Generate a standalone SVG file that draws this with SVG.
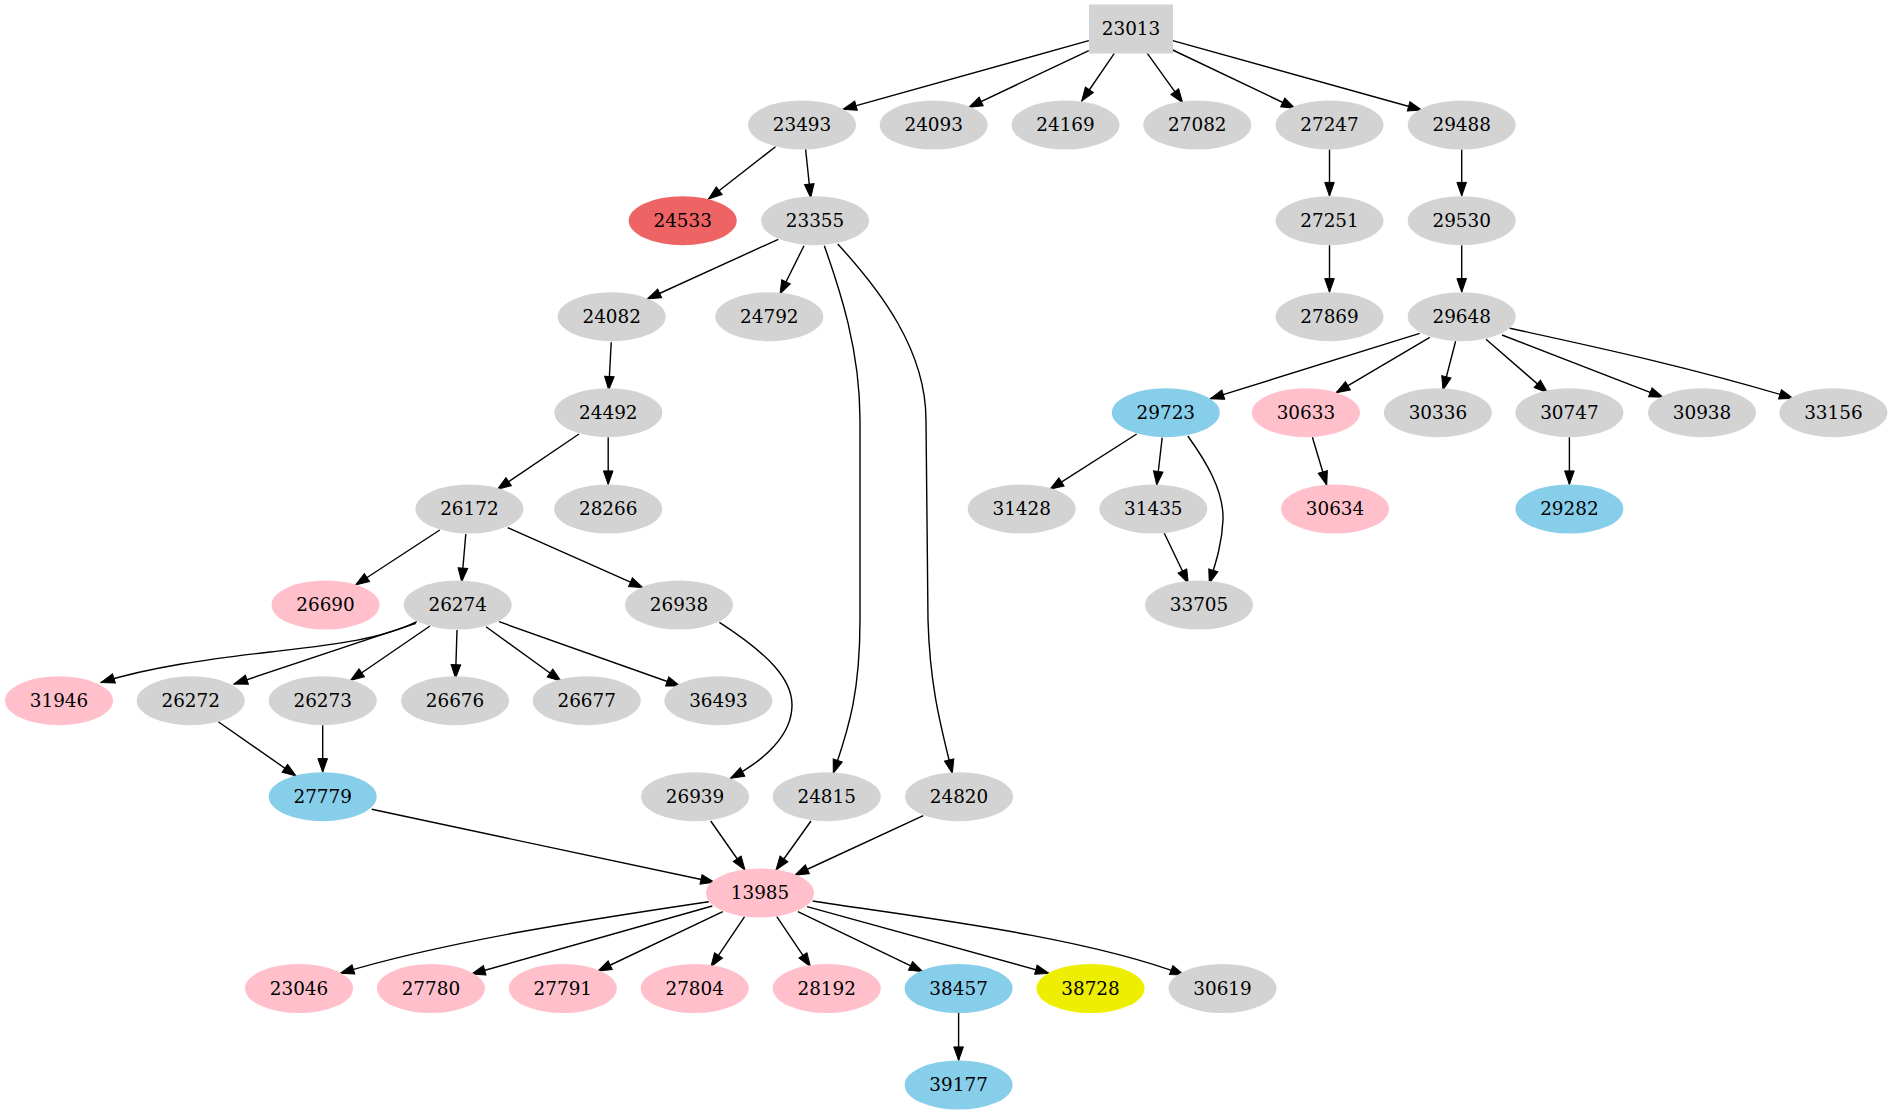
<svg xmlns="http://www.w3.org/2000/svg" width="1893" height="1115" viewBox="0 0 1893 1115">
<style>
.n ellipse,.n rect{stroke:none}
.g ellipse,.g rect{fill:#d3d3d3}
.p ellipse{fill:#ffc0cb}
.b ellipse{fill:#87ceeb}
.r ellipse{fill:#ee6363}
.y ellipse{fill:#eeee00}
text{font-family:"DejaVu Serif","Liberation Serif",serif;font-size:18.4px;fill:#000;text-anchor:middle}
#edges path{fill:none;stroke:#000;stroke-width:1.4;marker-end:url(#ah)}
</style>
<defs>
<marker id="ah" markerUnits="userSpaceOnUse" markerWidth="14" markerHeight="10" refX="13.6" refY="4.8" orient="auto" overflow="visible">
<path d="M0,0 L13.6,4.8 L0,9.6 z" fill="#000" stroke="#000" stroke-width="1"/>
</marker>
</defs>
<rect width="1893" height="1115" fill="#fff"/>
<g id="edges">
<path d="M1088.8,40.7 L842.9,109.3"/>
<path d="M1088.8,50.7 L968.9,107.3"/>
<path d="M1114.3,53.3 L1081.7,101"/>
<path d="M1147.3,53.3 L1182.7,102.7"/>
<path d="M1172.7,50 L1295,108.3"/>
<path d="M1172.7,40.7 L1421.7,110"/>
<path d="M775.5,146.7 L708.5,199"/>
<path d="M805.6,149.3 L810.7,197.7"/>
<path d="M778.3,239.3 L647.3,299"/>
<path d="M804,245.7 L780,294"/>
<path d="M824.3,245.7 C840,290 860,350 860,420 L860,620 C860,690 850,725 833.3,773.3"/>
<path d="M837.7,244 C880,290 926,350 926,420 L928,620 C930,690 942,730 952.3,773.3"/>
<path d="M1329.5,149.5 L1329.5,196"/>
<path d="M1329.5,245.2 L1329.5,292.2"/>
<path d="M1461.7,149.5 L1461.7,196"/>
<path d="M1461.7,245.2 L1461.7,292.2"/>
<path d="M1419.7,333.3 L1210.3,398.7"/>
<path d="M1429.8,337.3 L1336.2,392.7"/>
<path d="M1455.6,341.3 L1443,390"/>
<path d="M1486,339.3 L1547.6,392.7"/>
<path d="M1502,335 L1663,397.3"/>
<path d="M1509.7,328.3 C1610,350 1700,370 1793,398.3"/>
<path d="M1312.4,437.3 L1326.7,485"/>
<path d="M1569.4,437.2 L1569.4,484.5"/>
<path d="M1136.7,434 L1050,489.3"/>
<path d="M1162.2,437.7 L1156.7,485"/>
<path d="M1187.8,436 C1205,460 1224,490 1223,520 C1222,545 1215,565 1209.3,583.3"/>
<path d="M1164.3,533.3 L1188.3,583.3"/>
<path d="M611.2,342.3 L608.7,390"/>
<path d="M579,434 L497.4,489.3"/>
<path d="M608.2,437.2 L608.2,484.5"/>
<path d="M439.8,530 L355.6,585"/>
<path d="M465.8,534 L461.7,581.7"/>
<path d="M507.7,527.7 L642.9,587.7"/>
<path d="M416.8,621.7 C380,640 330,645 270,652 C210,659 150,667 101,682.5"/>
<path d="M415.8,623.3 L234,684"/>
<path d="M430,626 L350.5,680.5"/>
<path d="M457,630 L455.5,678.3"/>
<path d="M486,626.7 L561,681"/>
<path d="M499,621.7 L680,686"/>
<path d="M719.4,622.3 C770,655 792,680 792,705 C792,735 765,760 730.5,778.3"/>
<path d="M218.3,721.7 L296,776"/>
<path d="M322.7,725.2 L322.7,772.2"/>
<path d="M371.7,809.3 L714.3,882.3"/>
<path d="M710.7,821 L745,870"/>
<path d="M811,821 L776,870"/>
<path d="M923.3,815.7 L795,875"/>
<path d="M708.8,901.7 C600,918 450,940 340.4,973.3"/>
<path d="M712.3,906 L471.6,974"/>
<path d="M722.8,911.7 L597.9,971"/>
<path d="M744.6,916.7 L710.9,966.7"/>
<path d="M776.8,916.7 L810.5,966.7"/>
<path d="M797.9,911.7 L922.8,971.7"/>
<path d="M807,906.7 L1049,973.3"/>
<path d="M812.6,901 C900,915 1080,935 1183.9,975"/>
<path d="M958.6,1013 L958.6,1060.5"/>
</g>
<g id="n23013" class="n g"><rect x="1089" y="4.5" width="84" height="49"/><text x="1131" y="35.3">23013</text></g>
<g id="n23493" class="n g"><ellipse cx="802" cy="125" rx="54" ry="24.5"/><text x="802" y="131.3">23493</text></g>
<g id="n24093" class="n g"><ellipse cx="933.7" cy="125" rx="54" ry="24.5"/><text x="933.7" y="131.3">24093</text></g>
<g id="n24169" class="n g"><ellipse cx="1065.5" cy="125" rx="54" ry="24.5"/><text x="1065.5" y="131.3">24169</text></g>
<g id="n27082" class="n g"><ellipse cx="1197.3" cy="125" rx="54" ry="24.5"/><text x="1197.3" y="131.3">27082</text></g>
<g id="n27247" class="n g"><ellipse cx="1329.5" cy="125" rx="54" ry="24.5"/><text x="1329.5" y="131.3">27247</text></g>
<g id="n29488" class="n g"><ellipse cx="1461.7" cy="125" rx="54" ry="24.5"/><text x="1461.7" y="131.3">29488</text></g>
<g id="n24533" class="n r"><ellipse cx="682.7" cy="220.7" rx="54" ry="24.5"/><text x="682.7" y="227">24533</text></g>
<g id="n23355" class="n g"><ellipse cx="815" cy="220.7" rx="54" ry="24.5"/><text x="815" y="227">23355</text></g>
<g id="n27251" class="n g"><ellipse cx="1329.5" cy="220.7" rx="54" ry="24.5"/><text x="1329.5" y="227">27251</text></g>
<g id="n29530" class="n g"><ellipse cx="1461.7" cy="220.7" rx="54" ry="24.5"/><text x="1461.7" y="227">29530</text></g>
<g id="n24082" class="n g"><ellipse cx="611.7" cy="316.7" rx="54" ry="24.5"/><text x="611.7" y="323">24082</text></g>
<g id="n24792" class="n g"><ellipse cx="769.3" cy="316.7" rx="54" ry="24.5"/><text x="769.3" y="323">24792</text></g>
<g id="n27869" class="n g"><ellipse cx="1329.5" cy="316.7" rx="54" ry="24.5"/><text x="1329.5" y="323">27869</text></g>
<g id="n29648" class="n g"><ellipse cx="1461.7" cy="316.7" rx="54" ry="24.5"/><text x="1461.7" y="323">29648</text></g>
<g id="n24492" class="n g"><ellipse cx="608.3" cy="412.7" rx="54" ry="24.5"/><text x="608.3" y="419">24492</text></g>
<g id="n29723" class="n b"><ellipse cx="1165.8" cy="412.7" rx="54" ry="24.5"/><text x="1165.8" y="419">29723</text></g>
<g id="n30633" class="n p"><ellipse cx="1305.9" cy="412.7" rx="54" ry="24.5"/><text x="1305.9" y="419">30633</text></g>
<g id="n30336" class="n g"><ellipse cx="1437.9" cy="412.7" rx="54" ry="24.5"/><text x="1437.9" y="419">30336</text></g>
<g id="n30747" class="n g"><ellipse cx="1569.4" cy="412.7" rx="54" ry="24.5"/><text x="1569.4" y="419">30747</text></g>
<g id="n30938" class="n g"><ellipse cx="1702" cy="412.7" rx="54" ry="24.5"/><text x="1702" y="419">30938</text></g>
<g id="n33156" class="n g"><ellipse cx="1833.4" cy="412.7" rx="54" ry="24.5"/><text x="1833.4" y="419">33156</text></g>
<g id="n26172" class="n g"><ellipse cx="469.4" cy="509" rx="54" ry="24.5"/><text x="469.4" y="515.3">26172</text></g>
<g id="n28266" class="n g"><ellipse cx="608.2" cy="509" rx="54" ry="24.5"/><text x="608.2" y="515.3">28266</text></g>
<g id="n31428" class="n g"><ellipse cx="1021.7" cy="509" rx="54" ry="24.5"/><text x="1021.7" y="515.3">31428</text></g>
<g id="n31435" class="n g"><ellipse cx="1153.3" cy="509" rx="54" ry="24.5"/><text x="1153.3" y="515.3">31435</text></g>
<g id="n30634" class="n p"><ellipse cx="1335" cy="509" rx="54" ry="24.5"/><text x="1335" y="515.3">30634</text></g>
<g id="n29282" class="n b"><ellipse cx="1569.4" cy="509" rx="54" ry="24.5"/><text x="1569.4" y="515.3">29282</text></g>
<g id="n26690" class="n p"><ellipse cx="325.5" cy="605" rx="54" ry="24.5"/><text x="325.5" y="611.3">26690</text></g>
<g id="n26274" class="n g"><ellipse cx="457.7" cy="605" rx="54" ry="24.5"/><text x="457.7" y="611.3">26274</text></g>
<g id="n26938" class="n g"><ellipse cx="679" cy="605" rx="54" ry="24.5"/><text x="679" y="611.3">26938</text></g>
<g id="n33705" class="n g"><ellipse cx="1199" cy="605" rx="54" ry="24.5"/><text x="1199" y="611.3">33705</text></g>
<g id="n31946" class="n p"><ellipse cx="59" cy="700.7" rx="54" ry="24.5"/><text x="59" y="707">31946</text></g>
<g id="n26272" class="n g"><ellipse cx="190.7" cy="700.7" rx="54" ry="24.5"/><text x="190.7" y="707">26272</text></g>
<g id="n26273" class="n g"><ellipse cx="322.7" cy="700.7" rx="54" ry="24.5"/><text x="322.7" y="707">26273</text></g>
<g id="n26676" class="n g"><ellipse cx="455" cy="700.7" rx="54" ry="24.5"/><text x="455" y="707">26676</text></g>
<g id="n26677" class="n g"><ellipse cx="586.7" cy="700.7" rx="54" ry="24.5"/><text x="586.7" y="707">26677</text></g>
<g id="n36493" class="n g"><ellipse cx="718.4" cy="700.7" rx="54" ry="24.5"/><text x="718.4" y="707">36493</text></g>
<g id="n27779" class="n b"><ellipse cx="322.7" cy="796.7" rx="54" ry="24.5"/><text x="322.7" y="803">27779</text></g>
<g id="n26939" class="n g"><ellipse cx="695" cy="796.7" rx="54" ry="24.5"/><text x="695" y="803">26939</text></g>
<g id="n24815" class="n g"><ellipse cx="826.7" cy="796.7" rx="54" ry="24.5"/><text x="826.7" y="803">24815</text></g>
<g id="n24820" class="n g"><ellipse cx="959" cy="796.7" rx="54" ry="24.5"/><text x="959" y="803">24820</text></g>
<g id="n13985" class="n p"><ellipse cx="760" cy="893" rx="54" ry="24.5"/><text x="760" y="899.3">13985</text></g>
<g id="n23046" class="n p"><ellipse cx="299" cy="988.5" rx="54" ry="24.5"/><text x="299" y="994.8">23046</text></g>
<g id="n27780" class="n p"><ellipse cx="430.9" cy="988.5" rx="54" ry="24.5"/><text x="430.9" y="994.8">27780</text></g>
<g id="n27791" class="n p"><ellipse cx="562.8" cy="988.5" rx="54" ry="24.5"/><text x="562.8" y="994.8">27791</text></g>
<g id="n27804" class="n p"><ellipse cx="694.7" cy="988.5" rx="54" ry="24.5"/><text x="694.7" y="994.8">27804</text></g>
<g id="n28192" class="n p"><ellipse cx="826.7" cy="988.5" rx="54" ry="24.5"/><text x="826.7" y="994.8">28192</text></g>
<g id="n38457" class="n b"><ellipse cx="958.6" cy="988.5" rx="54" ry="24.5"/><text x="958.6" y="994.8">38457</text></g>
<g id="n38728" class="n y"><ellipse cx="1090.5" cy="988.5" rx="54" ry="24.5"/><text x="1090.5" y="994.8">38728</text></g>
<g id="n30619" class="n g"><ellipse cx="1222.5" cy="988.5" rx="54" ry="24.5"/><text x="1222.5" y="994.8">30619</text></g>
<g id="n39177" class="n b"><ellipse cx="958.6" cy="1085" rx="54" ry="24.5"/><text x="958.6" y="1091.3">39177</text></g>
</svg>
